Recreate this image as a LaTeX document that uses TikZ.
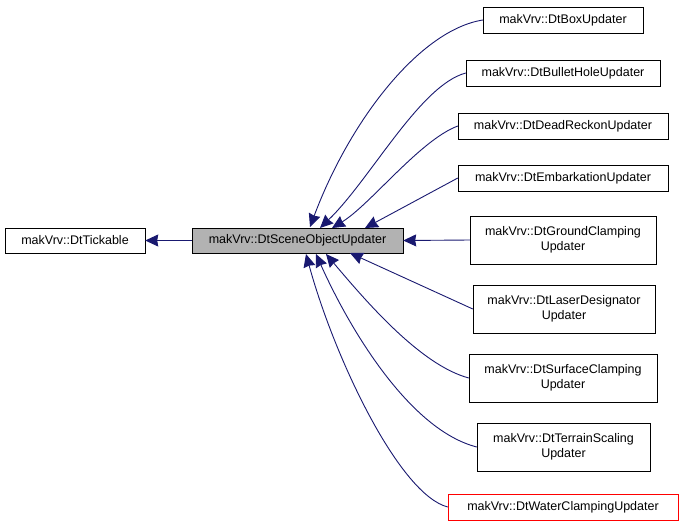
\documentclass[tikz,border=0pt]{standalone}
\usepackage{fontspec}
\setmainfont{Liberation Sans}
\usetikzlibrary{arrows.meta}
\definecolor{edge}{RGB}{25,25,112}
\begin{document}
\begin{tikzpicture}[x=1pt,y=-1pt,
  box/.style={draw=black,fill=white,inner sep=0pt,font=\fontsize{12.5}{15}\selectfont,align=center},
  arr/.style={draw=edge,-{Stealth[length=13pt,width=12pt,inset=1pt]},line width=0.9pt}]
\useasboundingbox (0,0) rectangle (683,531);
\node[box,minimum width=140,minimum height=25] (t) at (75,240.5) {makVrv::DtTickable};
\node[box,fill=black!30,minimum width=211,minimum height=25] (s) at (297.5,240.5) {makVrv::DtSceneObjectUpdater};
\node[box,minimum width=160,minimum height=26] (n1) at (563,20) {makVrv::DtBoxUpdater};
\node[box,minimum width=194,minimum height=26] (n2) at (563,73) {makVrv::DtBulletHoleUpdater};
\node[box,minimum width=210,minimum height=26] (n3) at (563,126) {makVrv::DtDeadReckonUpdater};
\node[box,minimum width=210,minimum height=26] (n4) at (563,178) {makVrv::DtEmbarkationUpdater};
\node[box,minimum width=186,minimum height=48] (n5) at (563,240) {makVrv::DtGroundClamping\\Updater};
\node[box,minimum width=182,minimum height=48] (n6) at (564,309) {makVrv::DtLaserDesignator\\Updater};
\node[box,minimum width=188,minimum height=48] (n7) at (563,378) {makVrv::DtSurfaceClamping\\Updater};
\node[box,minimum width=173,minimum height=48] (n8) at (563.5,447) {makVrv::DtTerrainScaling\\Updater};
\node[box,draw=red,minimum width=230,minimum height=26] (n9) at (563,507) {makVrv::DtWaterClampingUpdater};
\coordinate (e1) at (310,227);
\coordinate (e2) at (320,228);
\coordinate (e3) at (332,228);
\coordinate (e4) at (365,228);
\coordinate (e6) at (350,253);
\coordinate (e7) at (326,254);
\coordinate (e8) at (316,254);
\coordinate (e9) at (306,254);
\draw[arr] (s.west) -- (t.east);
\draw[arr] (n1.west) .. controls (420,30) and (350,120) .. (e1);
\draw[arr] (n2.west) .. controls (420,85) and (370,180) .. (e2);
\draw[arr] (n3.west) .. controls (420,140) and (370,205) .. (e3);
\draw[arr] (n4.west) -- (e4);
\draw[arr] (n5.west) -- (s.east);
\draw[arr] (n6.west) -- (e6);
\draw[arr] (n7.west) .. controls (420,365) and (365,300) .. (e7);
\draw[arr] (n8.west) .. controls (410,430) and (350,330) .. (e8);
\draw[arr] (n9.west) .. controls (400,495) and (335,360) .. (e9);
\end{tikzpicture}
\end{document}
